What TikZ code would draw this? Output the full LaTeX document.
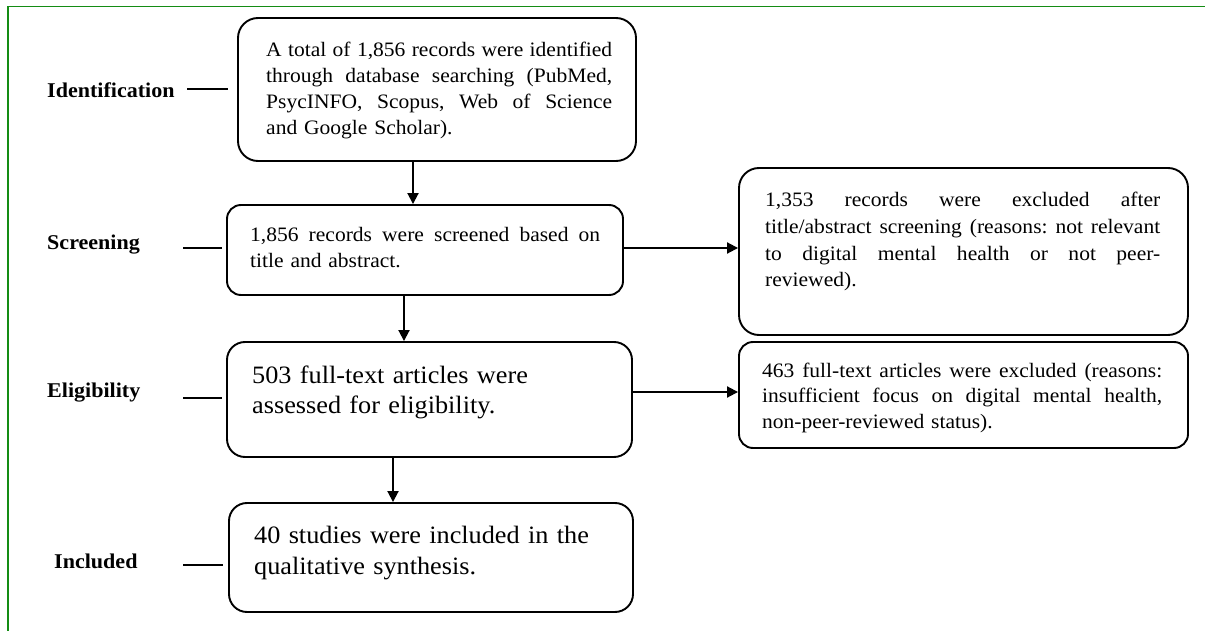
\documentclass[tikz,border=0pt]{standalone}
\usepackage{fontspec}
\setmainfont{Liberation Serif}[FakeStretch=1.05]
\usetikzlibrary{arrows.meta}
\definecolor{framegreen}{RGB}{20,140,20}
\newcommand\myfa{\fontsize{20.5pt}{26pt}\selectfont}
\newcommand\myfc{\fontsize{20.5pt}{26.6pt}\selectfont}
\newcommand\myfe{\fontsize{20.5pt}{25.5pt}\selectfont}
\newcommand\myfb{\fontsize{25pt}{30.5pt}\selectfont}
\newcommand\jline[2]{\makebox[#1][s]{\frenchspacing\spaceskip=0.25em plus 1fil\relax #2}}
\begin{document}
\frenchspacing
\begin{tikzpicture}[x=1pt,y=-1pt,
  box/.style={draw, line width=1.9pt, rounded corners=18pt, inner sep=0pt},
  txt/.style={anchor=base west, inner sep=0pt, align=left},
  stage/.style={anchor=base west, inner sep=0pt, font=\fontsize{21pt}{25pt}\selectfont\bfseries},
  arr/.style={line width=1.9pt, -{Triangle[length=11pt,width=11pt]}},
  stageline/.style={line width=2.2pt}]
\useasboundingbox (0,0) rectangle (1205,631);
\draw[framegreen, line width=1.5pt] (8,631) -- (8,6.3) -- (1205,6.3);

% boxes
\node[box, rounded corners=20pt, minimum width=398pt, minimum height=143pt] (b1) at (437,89.5) {};
\node[box, rounded corners=14pt, minimum width=396pt, minimum height=90pt] (b2) at (425,250) {};
\node[box, rounded corners=20pt, minimum width=449pt, minimum height=167pt] (b3) at (963.5,251.5) {};
\node[box, minimum width=405pt, minimum height=115pt] (b4) at (429.5,399.5) {};
\node[box, rounded corners=14pt, minimum width=449pt, minimum height=106pt] (b5) at (963.5,395) {};
\node[box, minimum width=404pt, minimum height=109pt] (b6) at (431,557.5) {};

% texts
\node[txt, text width=350pt, font=\myfa] (t1) at (266,57) {%
\jline{346pt}{A total of 1,856 records were identified}\\
\jline{346pt}{through database searching (PubMed,}\\
\jline{346pt}{PsycINFO, Scopus, Web of Science}\\
and Google Scholar).};
\node[txt, text width=354pt, font=\myfa] (t2) at (250,242) {%
\jline{350pt}{1,856 records were screened based on}\\
title and abstract.};
\node[txt, text width=399pt, font=\myfc] (t3) at (765,207) {%
\jline{395pt}{1,353 records were excluded after}\\
\jline{395pt}{title/abstract screening (reasons: not relevant}\\
\jline{395pt}{to digital mental health or not peer-}\\
reviewed).};
\node[txt, text width=360pt, font=\myfb] (t4) at (252,383) {%
503 full-text articles were\\
assessed for eligibility.};
\node[txt, text width=404pt, font=\myfe] (t5) at (762,377) {%
\jline{400pt}{463 full-text articles were excluded (reasons:}\\
\jline{400pt}{insufficient focus on digital mental health,}\\
non-peer-reviewed status).};
\node[txt, text width=360pt, font=\fontsize{25pt}{31pt}\selectfont] (t6) at (254,543) {%
40 studies were included in the\\
qualitative synthesis.};

% stage labels
\node[stage] (sI) at (47,98) {Identification};
\node[stage] (sS) at (47,250) {Screening};
\node[stage] (sE) at (47,397) {Eligibility};
\node[stage] (sN) at (54,568) {Included};

\coordinate (cI) at (187,89);
\coordinate (cS) at (183,248);
\coordinate (cE) at (183,398);
\coordinate (cN) at (183,565);
\draw[stageline, shorten >=9pt] (cI) -- (cI -| b1.west);
\draw[stageline, shorten >=4pt] (cS) -- (cS -| b2.west);
\draw[stageline, shorten >=4pt] (cE) -- (cE -| b4.west);
\draw[stageline, shorten >=5pt] (cN) -- (cN -| b6.west);

% arrows
\draw[arr] ([xshift=-24pt]b1.south) -- ([xshift=-24pt]b1.south |- b2.north);
\draw[arr] ([xshift=-21pt]b2.south) -- ([xshift=-21pt]b2.south |- b4.north);
\draw[arr] ([xshift=-36.5pt]b4.south) -- ([xshift=-36.5pt]b4.south |- b6.north);
\draw[arr] ([yshift=2pt]b2.east) -- ([yshift=2pt]b2.east -| b3.west);
\draw[arr] ([yshift=7.5pt]b4.east) -- ([yshift=7.5pt]b4.east -| b5.west);
\end{tikzpicture}
\end{document}
